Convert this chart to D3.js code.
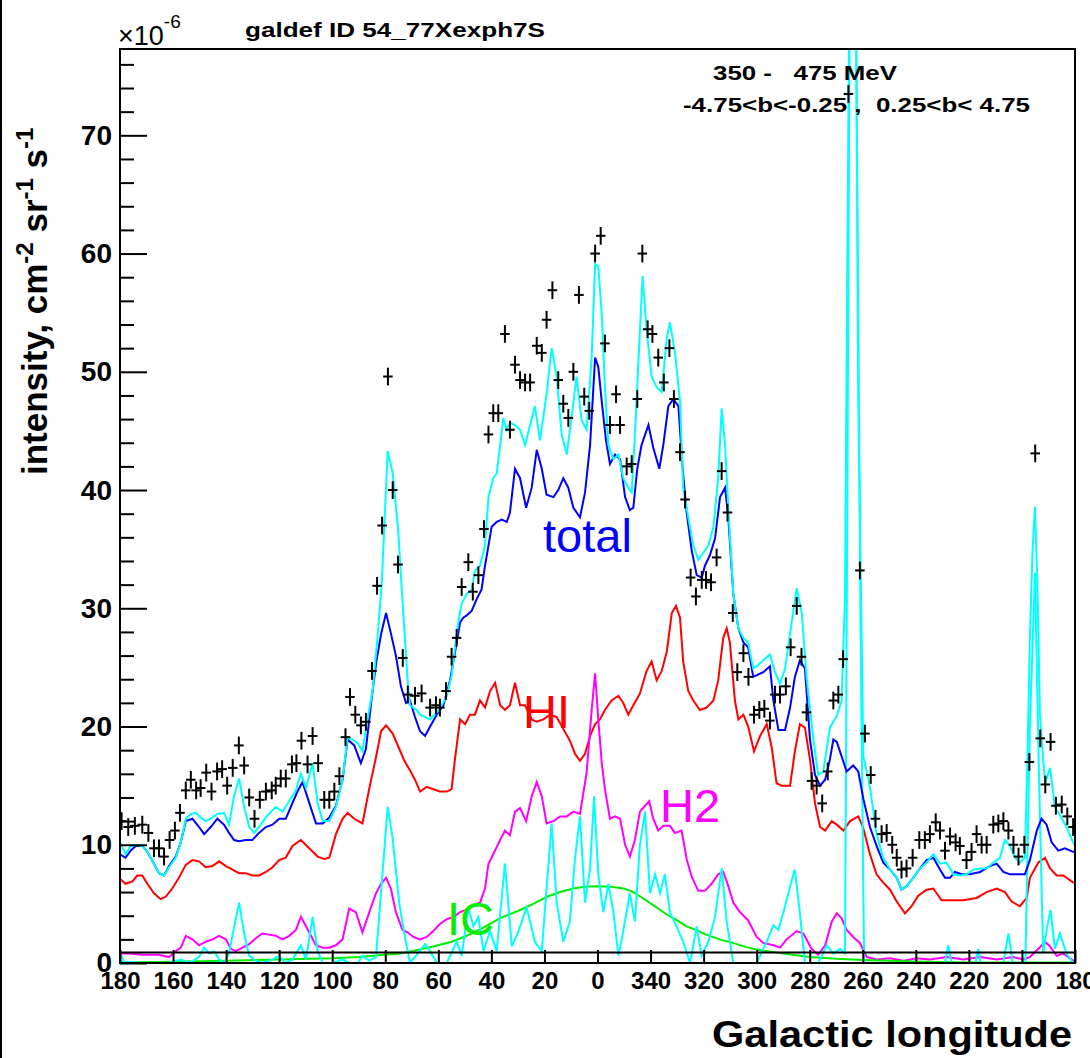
<!DOCTYPE html>
<html lang="en">
<head>
<meta charset="UTF-8">
<title>galdef ID 54_77Xexph7S</title>
<script src="https://d3js.org/d3.v7.min.js"></script>
<style>
  body { margin: 0; background: #fff; }
  svg { display: block; font-family: "Liberation Sans", Arial, sans-serif; }
  .bold { font-weight: bold; }
</style>
</head>
<body>
<div id="chart"></div>
<script>
// longitude runs 180 -> 0 -> -180, labels shown as 0..360
const xTicks = [180, 160, 140, 120, 100, 80, 60, 40, 20, 0, -20, -40, -60, -80, -100, -120, -140, -160, -180];
const yTicks = [0, 10, 20, 30, 40, 50, 60, 70];
const yMinor = d3.range(0, 78, 2);

// EGRET-style data points [l, intensity 1e-6]
const dataPts = [[179.4,12.0],[176.9,11.5],[174.4,11.6],[171.6,11.7],[169.3,11.0],[167.2,9.7],[165.3,9.7],[163.4,9.0],[161.3,10.4],[159.3,11.2],[157.4,12.7],[155.2,14.6],[153.3,15.5],[151.3,14.6],[149.6,14.8],[147.5,16.1],[145.5,14.5],[143.4,16.2],[141.5,16.4],[139.6,15.0],[137.5,16.5],[135.2,18.4],[133.2,16.7],[131.3,14.0],[129.3,12.2],[127.3,13.8],[125.0,14.5],[122.8,14.6],[121.3,15.0],[119.4,15.6],[117.5,15.6],[115.2,16.8],[113.5,16.9],[111.6,18.8],[109.3,16.8],[107.4,19.2],[105.3,16.9],[103.0,13.8],[101.1,13.8],[99.2,14.5],[97.3,15.8],[95.0,19.1],[93.3,22.5],[91.3,21.0],[89.2,20.1],[87.3,20.4],[85.0,24.7],[83.1,31.9],[81.2,37.0],[79.0,49.6],[77.2,40.0],[75.2,33.7],[73.4,25.8],[71.5,22.7],
  [68.8,22.6],[66.3,22.8],[63.1,21.6],[60.9,21.8],[59.4,21.6],[57.1,23.0],[55.0,25.9],[53.1,27.5],[51.2,31.8],[48.7,33.9],[47.0,31.4],[44.9,32.8],[42.8,36.7],[41.1,44.7],[39.3,46.5],[37.4,46.5],[34.9,53.2],[33.0,45.1],[31.1,50.6],[29.2,49.3],[27.3,49.1],[25.4,49.1],[22.9,52.2],[21.0,51.6],[19.2,54.4],[17.0,56.9],[14.8,49.3],[12.9,47.3],[11.0,46.1],[9.1,50.0],[7.0,56.5],[5.0,47.9],[3.1,46.7],[0.9,60.0],[-1.2,61.5],[-2.8,52.4],[-4.7,45.5],[-7.0,48.1],[-8.5,45.5],[-11.0,42.0],[-12.9,42.2],[-15.0,47.7],[-16.9,60.0],[-18.9,53.6],[-20.7,53.2],[-22.9,51.2],[-25.0,49.1],[-27.1,52.0],[-28.8,47.7],[-31.1,43.2],[-33.0,39.2],[-35.1,32.6],[-37.1,31.0],[-39.3,32.4],[-40.9,32.4],[-42.8,32.2],[-44.9,34.3],[-46.8,41.6],[-49.0,38.1],
  [-51.0,29.6],[-52.7,24.6],[-55.0,26.2],[-56.9,24.2],[-59.0,21.0],[-61.0,21.4],[-62.9,21.5],[-65.0,20.5],[-66.9,22.7],[-68.8,22.7],[-71.0,23.4],[-72.8,26.7],[-75.1,30.2],[-76.9,25.9],[-78.8,21.2],[-80.7,15.4],[-82.6,15.0],[-84.7,13.5],[-86.8,16.2],[-88.9,22.2],[-90.8,22.7],[-92.6,25.7],[-94.6,73.5],[-98.9,33.2],[-100.8,19.4],[-103.0,15.9],[-104.8,12.2],[-107.1,10.9],[-109.0,11.0],[-111.1,10.0],[-112.8,8.9],[-114.6,7.9],[-116.5,8.0],[-118.8,8.9],[-121.3,10.4],[-123.4,10.4],[-125.3,10.9],[-127.5,11.9],[-129.1,11.2],[-131.0,9.5],[-132.9,10.7],[-135.0,10.2],[-136.6,9.9],[-139.1,8.7],[-141.0,9.4],[-142.9,10.9],[-144.8,10.0],[-146.7,10.0],[-149.2,11.7],[-151.1,11.8],[-153.0,12.0],[-154.9,11.2],[-156.8,10.0],[-158.7,9.0],[-160.9,10.0],[-162.8,17.0],[-165.0,43.1],[-166.9,19.0],[-168.8,15.1],[-170.8,18.7],[-172.8,13.3],[-175.0,13.4],[-177.1,12.4],[-179.3,11.5]];
const errY = 0.75;   // half height of error bar
const errX = 1.8;    // half width of bin (deg)

// total model + sources (cyan)
const totalSrc = [[180,10.2],[177.9,9.2],[176,9.9],[174.1,10.0],[171.6,9.9],[169.7,9.4],[167.2,8.4],[165.3,7.6],[163.4,7.4],[161.5,8.1],[159,8.9],[157.1,10.2],[155.2,12.2],[153.3,12.6],[151.4,12.7],[149.6,12.3],[147.7,12.0],[145.8,12.2],[143.3,12.6],[140.8,12.7],[138.9,11.7],[137,14.1],[135.1,15.6],[133.2,13.2],[131.3,11.5],[129.4,11.0],[126.9,11.7],[124.4,12.5],[121.3,13.2],[118.7,12.8],[116.2,13.7],[113.7,14.6],[111.8,16.0],[109.9,14.8],[107.4,16.9],[105.5,13.5],[103.6,12.0],[101.1,12.0],[98.6,13.2],[96.1,15.5],[94.2,19.1],[92.3,18.9],[90.4,18.6],[88.6,17.9],[86.7,20.6],[84.8,23.0],[82.9,27.6],[81.3,32.2],[79.1,43.3],[77.2,41.4],[75.2,36.8],[73.5,30.6],[71.6,24.0],
  [70.7,21.8],[68.2,21.4],[66.9,21.0],[65,20.8],[63.1,20.6],[60.6,21.2],[58.7,21.8],[56.8,22.6],[55,24.3],[53.7,26.7],[52.5,28.8],[51.2,30.4],[49.3,31.2],[47.4,31.6],[46.2,33.2],[44.3,33.6],[42.4,35.3],[41.1,39.4],[39.3,41.0],[38,41.4],[36.7,43.8],[35.5,46.1],[34.2,45.1],[33,45.7],[31.1,45.5],[29.2,45.1],[27.3,43.8],[25.4,45.5],[23.6,47.1],[21.7,44.2],[19.2,48.1],[17.3,52.0],[15.4,49.6],[13.5,44.7],[11.6,43.0],[9.7,46.3],[7.9,49.6],[6,45.9],[4.1,45.1],[2.2,51.2],[0.9,59.1],[-0.3,58.9],[-1.6,54.9],[-2.8,48.7],[-4.1,43.8],[-6,42.6],[-7.9,43.0],[-9.7,41.0],[-11.6,40.2],[-12.9,39.8],[-14.1,44.7],[-15.4,50.8],[-17,58.1],[-18.5,53.6],[-20.4,49.6],[-22.3,48.7],[-24.2,48.3],[-26.1,52.8],[-27.3,54.2],[-29.2,51.6],[-31.1,47.5],[-32.3,40.2],[-34.2,37.7],[-36.1,35.3],[-38,34.1],[-39.9,34.7],[-41.8,35.3],[-43.7,36.9],[-45.5,41.0],[-46.8,46.9],[-48.1,43.8],[-49.3,38.5],[-51.2,31.2],[-53.1,28.3],[-55,27.5],[-56.8,27.1],
  [-58.7,24.9],[-60.6,25.2],[-62.5,25.6],[-65,26.1],[-66.9,24.6],[-68.8,23.6],[-70.7,24.9],[-72.6,27.9],[-75.1,31.7],[-77,29.6],[-78.8,24.2],[-81.4,18.9],[-83.2,15.9],[-85.1,16.2],[-87.6,19.9],[-90.2,20.9],[-92,22.2],[-93.3,30.9],[-94.2,60],[-95.2,90],[-97.2,90],[-98.3,47.6],[-100.2,17.5],[-102.7,14.9],[-105.2,10.9],[-107.7,8.9],[-110.3,7.9],[-112.8,7.2],[-114.6,6.2],[-116.5,6.5],[-119,7.2],[-121.6,8.0],[-124.1,8.5],[-126.6,9.2],[-129.1,8.4],[-131.6,8.5],[-134.1,7.5],[-136.6,7.4],[-139.1,7.5],[-141.7,7.9],[-144.2,8.0],[-146.7,8.0],[-149.2,8.5],[-151.7,8.9],[-153.6,10.4],[-155.5,9.9],[-157.4,8.9],[-159.2,8.5],[-161.1,8.9],[-162.1,17.5],[-163,27.6],[-164,34.9],[-164.9,38.6],[-165.8,32.2],[-166.8,20.9],[-168.7,15.2],[-170.6,16.5],[-172.4,13.2],[-174.3,12.5],[-176.8,11.5],[-179.3,10.2],[-180,10.0]];

// total model (blue)
const totalLine = [[180,9.2],[177.9,8.9],[176,9.5],[174.1,9.9],[171.6,9.9],[169.7,9.4],[167.2,8.4],[165.3,7.6],[163.4,7.4],[161.5,8.2],[159,9.0],[157.1,10.2],[155.2,12.0],[152.7,12.2],[150.2,11.5],[148.3,10.9],[145.8,11.5],[143.3,12.2],[140.8,11.7],[138.9,11.0],[137,10.4],[135.1,10.3],[132.6,10.4],[130.1,10.4],[127.6,11.0],[125,11.5],[122.5,11.7],[120,12.2],[117.5,12.2],[115.6,13.2],[113.1,14.5],[111.2,15.3],[108.6,13.5],[106.1,11.8],[103.6,11.8],[101.1,12.3],[98.6,13.3],[96.1,15.5],[94.2,18.9],[91.7,18.4],[89.2,16.9],[87.3,18.1],[85.4,21.9],[83.5,25.3],[81.6,27.8],[79.7,29.6],[77.9,27.9],[76,26.0],[74.1,23.4],[72.2,22.0],
  [70.7,22.2],[68.8,20.8],[66.9,19.6],[65,19.2],[63.1,20.0],[60.6,21.0],[58.1,21.8],[55.6,23.9],[53.7,26.3],[51.8,28.8],[50.6,29.2],[49.3,29.4],[47.4,29.8],[45.5,30.8],[43.7,31.6],[42.4,33.6],[41.1,35.3],[39.9,36.9],[38,37.3],[36.1,37.5],[34.2,37.3],[33,38.1],[31.1,41.8],[29.2,41.0],[26.9,38.5],[24.8,40.2],[22.9,43.4],[21,41.8],[19.2,39.6],[16.6,39.4],[14.8,40.0],[12.9,41.0],[11,40.2],[9.1,38.5],[6.6,37.7],[4.7,39.8],[2.8,43.8],[0.9,51.2],[-0.3,50.4],[-1.6,47.5],[-3.2,44.2],[-4.7,42.2],[-6.6,43.0],[-8.5,42.6],[-10.4,39.4],[-12.2,38.3],[-13.5,38.5],[-15,41.8],[-16.6,43.8],[-19.2,45.5],[-21,43.6],[-23.3,41.8],[-24.8,43.8],[-26.7,47.1],[-28.6,47.7],[-30.5,47.1],[-32.1,41.8],[-33.6,38.1],[-35.5,34.9],[-37.4,32.8],[-39.3,32.6],[-40.5,33.6],[-42.4,34.5],[-44.3,35.9],[-46.2,39.4],[-48.1,40.2],[-49.3,37.7],[-51.2,31.2],[-53.1,28.3],[-55,27.1],[-56.8,26.7],
  [-58.7,24.2],[-60.6,24.4],[-62.5,24.6],[-65,25.1],[-66.3,22.2],[-68.2,19.7],[-70.7,19.7],[-72.6,21.6],[-74.4,24.2],[-76.3,25.6],[-78.2,24.9],[-80.1,18.9],[-82,15.9],[-83.9,15.0],[-85.8,15.5],[-87.6,17.2],[-88.9,18.9],[-90.2,18.7],[-92,17.5],[-93.9,16.2],[-96.4,16.7],[-98.3,16.2],[-100.2,13.9],[-102.7,11.5],[-105.2,9.9],[-107.7,8.5],[-110.3,7.9],[-112.8,7.2],[-114.6,6.2],[-116.5,6.5],[-119,7.2],[-121.6,8.0],[-124.1,8.7],[-126.6,8.9],[-129.1,7.9],[-131,7.2],[-132.9,7.2],[-134.7,7.7],[-137.3,7.5],[-140.4,7.5],[-144.2,7.7],[-147.9,8.2],[-150.5,8.4],[-153,7.7],[-155.5,7.5],[-158,7.5],[-161.1,7.5],[-163,8.7],[-165.6,11.2],[-167.4,12.2],[-169.3,11.7],[-171.2,10.2],[-173.7,9.5],[-176.2,9.7],[-179.3,9.4],[-180,9.4]];

// HI (red)
const hiLine = [[180,7.1],[177.9,6.7],[175.3,6.9],[173.5,7.4],[171.6,7.4],[169.7,6.7],[167.2,5.9],[164.7,5.4],[162.8,5.6],[160.3,6.3],[157.8,7.2],[155.2,8.3],[152.7,8.7],[150.2,8.6],[147.7,8.1],[145.2,8.2],[142.6,8.6],[140.1,8.2],[137.6,7.9],[135.1,7.6],[132.6,7.6],[130.1,7.4],[127.5,7.4],[125,7.7],[122.5,8.1],[120,8.7],[117.5,8.9],[115,9.9],[111.8,10.4],[108.7,9.7],[105.5,9.0],[103,8.8],[101.1,8.9],[98.6,10.9],[96.1,12.2],[94.2,12.7],[91.7,12.2],[88.6,11.8],[86,14.8],[83.5,17.4],[81.6,19.6],[79.7,20.1],[77.2,19.4],[74.7,18.1],[72.8,17.1],
  [70.7,16.3],[68.8,15.5],[66.9,14.5],[64.4,14.9],[61.9,14.7],[59.4,14.5],[56.8,14.5],[55,14.7],[53.7,17.3],[51.8,20.6],[49.9,20.2],[48.1,21.0],[46.2,21.0],[44.3,22.2],[42.4,21.6],[40.5,23.0],[38.6,23.7],[36.7,21.8],[34.9,21.4],[33,21.8],[31.1,23.7],[29.2,21.8],[27.3,21.8],[24.8,20.6],[22.9,20.4],[20.4,20.6],[17.9,21.0],[15.4,20.8],[12.9,19.8],[10.4,18.8],[8.5,17.7],[6.6,17.1],[4.7,17.7],[2.8,19.2],[0.9,20.2],[-0.9,20.6],[-2.8,21.4],[-5.3,22.2],[-7.9,22.6],[-9.7,22.0],[-11.6,21.0],[-13.5,21.8],[-16,22.8],[-18.5,24.7],[-20.4,25.5],[-22.3,23.9],[-24.2,24.7],[-26.1,26.3],[-28,29.6],[-29.6,30.2],[-31.1,29.2],[-32.3,25.5],[-34.2,23.0],[-36.1,22.2],[-38.6,21.4],[-41.1,21.6],[-43.7,22.2],[-45.5,23.9],[-47.4,27.5],[-48.7,28.3],[-49.9,27.1],[-51.8,22.2],[-53.1,20.6],[-55,21.0],[-56.8,20.0],
  [-59,17.9],[-61.3,19.2],[-63.8,20.2],[-65.7,18.2],[-67.5,15.2],[-69.4,15.0],[-72.6,15.0],[-74.4,17.9],[-76.3,20.2],[-78.2,19.9],[-80.1,17.2],[-82,13.5],[-83.9,11.5],[-85.8,11.2],[-88.3,12.0],[-90.2,11.7],[-92.7,11.2],[-95.2,12.0],[-98.3,12.4],[-100.2,11.4],[-102.7,9.2],[-105.2,7.5],[-107.7,6.8],[-110.3,6.2],[-112.8,5.2],[-115.9,4.2],[-118.4,4.8],[-120.9,5.7],[-124.1,6.2],[-126.6,6.3],[-129.7,5.3],[-132.9,5.3],[-137.9,5.3],[-142.9,5.5],[-146.7,6.0],[-150.5,6.3],[-153.6,6.0],[-156.1,5.2],[-159.2,4.8],[-161.8,5.5],[-163,7.2],[-166.2,8.5],[-168.7,8.9],[-170.6,8.0],[-173.1,7.4],[-175.6,7.4],[-179.3,6.8],[-180,6.8]];

// H2 (magenta)
const h2Line = [[180,0.8],[176.6,0.8],[171.6,0.7],[165.3,0.7],[161.5,0.5],[159,1.0],[157.1,1.3],[155.2,2.3],[152.7,2.0],[150.2,1.5],[147.7,1.8],[145.2,2.0],[142.6,2.3],[140.1,2.0],[138.2,1.2],[136.4,1.0],[133.8,1.3],[131.3,1.6],[128.8,2.1],[126.3,2.5],[123.8,2.4],[121.3,2.3],[118.7,2.0],[116.2,2.3],[113.7,2.8],[111.8,3.9],[109.9,3.1],[108,2.3],[106.2,1.5],[103.6,1.3],[101.1,1.3],[98.6,1.5],[96.1,2.0],[93.6,4.6],[91.1,4.3],[88.6,2.6],[86,4.3],[83.5,5.9],[81.6,6.7],[79.7,7.2],[77.9,6.3],[76,4.3],[73.5,2.8],[71.6,2.6],
  [69.4,2.2],[66.9,2.0],[64.4,2.2],[61.9,2.7],[59.4,3.3],[56.8,3.7],[54.3,3.9],[51.8,4.3],[49.3,4.5],[46.8,4.9],[44.3,5.1],[42.4,6.3],[41.1,8.4],[39.3,9.2],[36.7,10.4],[34.9,11.2],[33,10.8],[31.1,12.8],[29.2,13.1],[26.9,12.0],[24.8,14.1],[22.9,15.3],[21,14.1],[19.2,11.8],[16.6,12.0],[14.1,12.4],[11.6,12.4],[9.1,12.8],[6.6,12.6],[4.1,16.1],[2.2,21.4],[0.9,24.5],[-0.3,20.6],[-1.6,16.9],[-2.8,14.7],[-4.7,12.2],[-6.6,12.4],[-8.5,12.2],[-10.4,10.0],[-12.2,9.0],[-14.1,10.4],[-16,12.8],[-17.9,13.3],[-19.5,13.7],[-21,12.2],[-22.9,11.2],[-24.8,11.6],[-27.3,11.6],[-29.2,11.0],[-31.7,11.2],[-33.6,8.8],[-35.5,7.3],[-38,6.1],[-40.5,6.1],[-43,6.7],[-45.5,7.5],[-47.4,7.7],[-49.3,6.5],[-51.2,5.1],[-53.7,4.3],[-56.8,3.6],
  [-60,2.2],[-62.5,1.7],[-66.3,1.5],[-68.8,1.3],[-71.3,2.0],[-75.1,2.7],[-77.6,2.5],[-80.7,1.2],[-83.2,0.7],[-85.8,1.5],[-88.3,3.5],[-90.2,4.2],[-92,3.8],[-93.9,2.8],[-96.4,2.2],[-98.9,1.7],[-101.5,0.5],[-105.2,0.3],[-110.3,0.4],[-115.3,0.2],[-120.3,0.4],[-125.3,0.3],[-131.6,0.5],[-137.9,0.3],[-144.2,0.5],[-150.5,0.3],[-156.7,0.5],[-160.5,0.3],[-163,0.5],[-166.2,1.2],[-168.7,1.8],[-170.6,1.4],[-173.1,0.6],[-175.6,0.8],[-179.3,0.2],[-180,0.2]];

// inverse Compton (green)
const icLine = [[180,0.05],[160,0.1],[140,0.2],[120,0.3],[100,0.4],[90,0.5],[80,0.7],[74.4,0.8],[70,1.0],[61.9,1.4],[55,1.8],[49.3,2.3],[43,3.0],[36.7,3.8],[30,4.4],[24.2,5.0],[19,5.6],[14.1,6.0],[9.1,6.3],[5,6.45],[0,6.5],[-5,6.45],[-10,6.3],[-13.5,6.0],[-17,5.5],[-21,4.9],[-26.1,4.1],[-30,3.6],[-33.6,3.1],[-37,2.8],[-41,2.4],[-46,2.0],[-51,1.7],[-56.8,1.3],[-62,1.05],[-70,0.8],[-80,0.5],[-90,0.35],[-100,0.25],[-120,0.12],[-140,0.05],[-180,0.05]];

// point sources (lower cyan)
const srcLine = [[180,0.8],[178.5,0.1],[171.6,0],[161.5,0],[157.1,0.3],[154,0],[150.2,0.5],[148.3,1.3],[146.4,0.8],[144.5,1.0],[142.6,0.3],[140.7,0],[138.9,0.8],[137,3.0],[135.1,5.1],[133.2,2.5],[131.3,0.6],[128.8,0.2],[126.3,0],[122.5,0.3],[120,0.6],[117.5,0],[115,0.3],[111.8,1.5],[109.9,0.3],[107.4,3.9],[105.5,1.0],[103.6,0],[99.9,0],[96.1,0.3],[93.6,0],[90.4,0],[88.6,0.6],[86,0.2],[83.5,0.5],[81.6,6.0],[79.1,13.2],[77.2,10.5],[74.7,5.0],[72.6,2.2],[70.7,0],[66.9,1.0],[65,1.6],[63.1,1.0],[60.6,0],[56.8,0],[53.1,1.8],[51.2,0.6],[48.7,4.7],[46.8,3.1],[44.9,3.9],[43,1.0],[40.5,2.7],[38,1.0],[34.9,8.4],[32.3,1.4],[29.8,2.7],[26.7,4.7],[23.6,1.8],[21,1.0],[19.2,6.3],[17.3,11.8],[15.4,5.1],[12.9,1.8],[10.4,3.5],[8.5,8.8],[6.6,12.4],[4.7,5.1],[2.8,8.0],[1.3,14.1],[-0.3,7.5],[-2.2,4.3],[-4.1,6.7],[-6,4.3],[-7.9,0.6],[-9.7,2.7],[-12.2,5.9],[-14.1,3.5],[-16,10.0],[-17.9,12.8],[-19.8,5.9],[-21.7,7.5],[-23.6,5.9],[-25.4,7.5],[-27.3,4.3],[-29.8,3.1],[-32.3,1.8],[-34.9,0],[-37.4,3.1],[-39.3,0.6],[-41.8,1.8],[-44.3,3.9],[-46.8,8.0],[-48.7,3.5],[-51.2,0],[-60,0],[-63.8,1.8],[-66.3,3.2],[-68.2,2.8],[-70.7,4.8],[-72.6,6.5],[-74.4,7.9],[-76.3,4.2],[-78.2,0],[-83.2,0],[-86.4,1.5],[-88.9,0.8],[-91.4,1.2],[-93.3,0.8],[-94.2,40],[-95.2,88],[-97.2,88],[-99.2,27.6],[-100.5,0],[-131,0],[-132.2,1.5],[-133.5,0],[-142.5,0],[-143.5,1.2],[-144.5,0],[-153,0],[-154.9,2.5],[-156.5,0],[-161.3,0],[-163,20],[-164.9,33],[-166.5,15],[-168,0.8],[-169.3,2.8],[-170.8,4.5],[-172.4,1.2],[-174.3,2.5],[-176.8,0.8],[-179.3,0],[-180,0]];

// isotropic background (black)
const isoLine = [[180,0.88],[-180,0.88]];

const W = 1090, H = 1058;
const M = {left: 120, right: 1075, top: 49, bottom: 963};

const svg = d3.select("#chart").append("svg")
  .attr("width", W).attr("height", H);

svg.append("rect").attr("width", W).attr("height", H).attr("fill", "#fff");
// canvas edge on the left
svg.append("line").attr("x1", 1).attr("x2", 1).attr("y1", 0).attr("y2", H)
  .attr("stroke", "#000").attr("stroke-width", 2);

const x = d3.scaleLinear().domain([180, -180]).range([M.left, M.right]);
const y = d3.scaleLinear().domain([0, 77.3]).range([M.bottom, M.top]);

svg.append("clipPath").attr("id", "frame")
  .append("rect").attr("x", M.left).attr("y", M.top)
  .attr("width", M.right - M.left).attr("height", M.bottom - M.top);

const plot = svg.append("g").attr("clip-path", "url(#frame)");

const line = d3.line().x(d => x(d[0])).y(d => y(d[1]));

const series = [
  {d: hiLine, c: "#ff0000"},
  {d: h2Line, c: "#ff00ff"},
  {d: icLine, c: "#00ee00"},
  {d: srcLine, c: "#00ffff"},
  {d: totalLine, c: "#0000ff"},
  {d: totalSrc, c: "#00ffff"},
  {d: isoLine, c: "#000000"}
];

series.forEach(s => {
  plot.append("path").datum(s.d)
    .attr("d", line)
    .attr("fill", "none")
    .attr("stroke", s.c)
    .attr("stroke-width", 2);
});

// data crosses
const pts = plot.append("g").attr("stroke", "#000").attr("stroke-width", 2);
pts.selectAll("line.v").data(dataPts).enter().append("line")
  .attr("x1", d => x(d[0])).attr("x2", d => x(d[0]))
  .attr("y1", d => y(d[1] - errY)).attr("y2", d => y(d[1] + errY));
pts.selectAll("line.h").data(dataPts).enter().append("line")
  .attr("x1", d => x(d[0] + errX)).attr("x2", d => x(d[0] - errX))
  .attr("y1", d => y(d[1])).attr("y2", d => y(d[1]));

// axes
const xAxis = d3.axisBottom(x).tickValues(xTicks).tickSize(-13).tickSizeOuter(0)
  .tickPadding(9).tickFormat(d => (d + 360) % 360);
const gx = svg.append("g").attr("transform", `translate(0,${M.bottom})`).call(xAxis);
gx.select(".domain").remove();
gx.selectAll("line").attr("stroke", "#000").attr("stroke-width", 2);
gx.selectAll("text").attr("class", "bold").attr("font-size", 24)
  .attr("font-family", "Liberation Sans, Arial, sans-serif").attr("fill", "#000");

const yAxis = d3.axisLeft(y).tickValues(yTicks).tickSize(-27).tickSizeOuter(0).tickPadding(8);
const gy = svg.append("g").attr("transform", `translate(${M.left},0)`).call(yAxis);
gy.select(".domain").remove();
gy.selectAll("line").attr("stroke", "#000").attr("stroke-width", 2);
gy.selectAll("text").attr("class", "bold").attr("font-size", 28)
  .attr("font-family", "Liberation Sans, Arial, sans-serif").attr("fill", "#000");

const gyMinor = svg.append("g").attr("transform", `translate(${M.left},0)`)
  .call(d3.axisLeft(y).tickValues(yMinor.filter(v => v % 10 !== 0)).tickSize(-14).tickSizeOuter(0).tickFormat(""));
gyMinor.select(".domain").remove();
gyMinor.selectAll("line").attr("stroke", "#000").attr("stroke-width", 2);

// frame
svg.append("rect").attr("x", M.left).attr("y", M.top)
  .attr("width", M.right - M.left).attr("height", M.bottom - M.top)
  .attr("fill", "none").attr("stroke", "#000").attr("stroke-width", 2);

// texts
svg.append("text").attr("class", "bold").attr("x", 245).attr("y", 37)
  .attr("font-size", 21).attr("textLength", 300).attr("lengthAdjust", "spacingAndGlyphs")
  .text("galdef ID 54_77Xexph7S");

const mult = svg.append("text").attr("x", 118).attr("y", 45).attr("font-size", 27);
mult.append("tspan").text("\u00d710");
mult.append("tspan").attr("dy", -17).attr("font-size", 19).text("-6");

svg.append("text").attr("class", "bold").attr("x", 713).attr("y", 80)
  .attr("font-size", 21).attr("textLength", 184).attr("lengthAdjust", "spacingAndGlyphs")
  .style("white-space", "pre")
  .text("350 -   475 MeV");
svg.append("text").attr("class", "bold").attr("x", 683).attr("y", 112)
  .attr("font-size", 21).attr("textLength", 347).attr("lengthAdjust", "spacingAndGlyphs")
  .style("white-space", "pre")
  .text("-4.75<b<-0.25 ,  0.25<b< 4.75");

svg.append("text").attr("class", "bold").attr("text-anchor", "end")
  .attr("x", 1072).attr("y", 1047).attr("font-size", 36)
  .attr("textLength", 360).attr("lengthAdjust", "spacingAndGlyphs")
  .text("Galactic longitude");

const yt = svg.append("text").attr("class", "bold")
  .attr("transform", "translate(47,475) rotate(-90)")
  .attr("font-size", 35);
yt.append("tspan").text("intensity, cm");
yt.append("tspan").attr("dy", -14).attr("font-size", 24).text("-2");
yt.append("tspan").attr("dy", 14).text(" sr");
yt.append("tspan").attr("dy", -14).attr("font-size", 24).text("-1");
yt.append("tspan").attr("dy", 14).text(" s");
yt.append("tspan").attr("dy", -14).attr("font-size", 24).text("-1");

const labels = [
  {t: "total", c: "#0000ff", x: 543, y: 552},
  {t: "HI", c: "#ff0000", x: 523, y: 728},
  {t: "H2", c: "#ff00ff", x: 660, y: 822},
  {t: "IC", c: "#00ee00", x: 447, y: 935}
];
svg.selectAll("text.lab").data(labels).enter().append("text")
  .attr("class", "lab").attr("x", d => d.x).attr("y", d => d.y)
  .attr("font-size", 47).attr("fill", d => d.c).text(d => d.t);
</script>
</body>
</html>
